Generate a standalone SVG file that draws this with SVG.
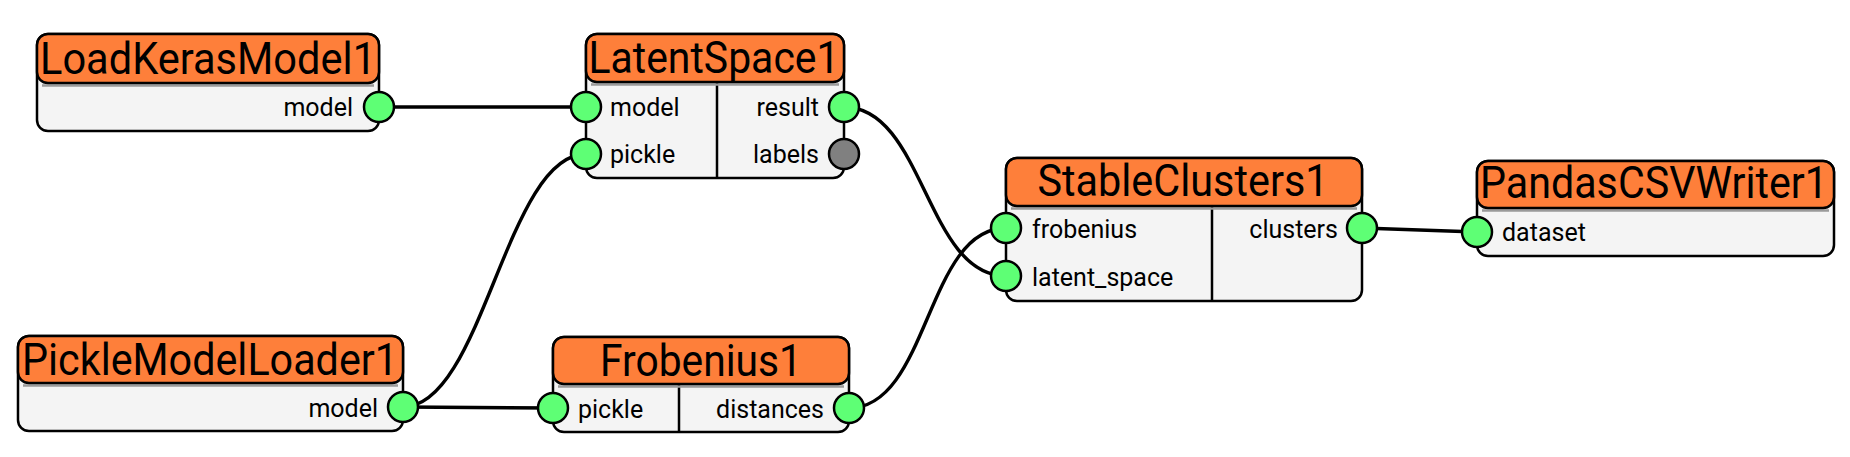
<svg xmlns="http://www.w3.org/2000/svg" width="1850" height="457" viewBox="0 0 1850 457">
<style>
.body{fill:#f4f4f4;stroke:#000;stroke-width:2.5}
.head{fill:#fe7f3a;stroke:#000;stroke-width:2.5}
.shadow{stroke:#9a9a9a;stroke-width:2.5;fill:none}
.div{stroke:#000;stroke-width:2.5}
.title{font-family:Roboto,"Liberation Sans",sans-serif;font-size:44px;fill:#000;text-anchor:middle}
.lbl{font-family:Roboto,"Liberation Sans",sans-serif;font-size:25px;fill:#000}
.r{text-anchor:end}
.port{fill:#5eff75;stroke:#000;stroke-width:2.5}
.off{fill:#808080;stroke:#000;stroke-width:2.5}
.conn{fill:none;stroke:#000;stroke-width:3.4}
</style>
<rect width="1850" height="457" fill="#fff"/>
<g id="connectors">
<path class="conn" d="M379,107 L586,107"/>
<path class="conn" d="M403,407 C483,407 506,154 586,154"/>
<path class="conn" d="M403,407 L553,408"/>
<path class="conn" d="M849,408 C929,408 926,228 1006,228"/>
<path class="conn" d="M844,107 C924,107 926,276 1006,276"/>
<path class="conn" d="M1362,228 L1477,232"/>
</g>
<g id="LoadKerasModel1">
<rect class="body" x="37" y="34" width="342" height="97" rx="11"/>
<line class="shadow" x1="42" y1="85.5" x2="374" y2="85.5"/>
<rect class="head" x="37" y="34" width="342" height="49" rx="11"/>
<text class="title" x="208" y="74" textLength="336" lengthAdjust="spacingAndGlyphs">LoadKerasModel1</text>
<text class="lbl r" x="353" y="116">model</text>
<circle class="port" cx="379" cy="107" r="15"/>
</g>
<g id="LatentSpace1">
<rect class="body" x="586" y="34" width="258" height="144" rx="11"/>
<line class="div" x1="717" y1="82" x2="717" y2="178"/>
<line class="shadow" x1="591" y1="84.5" x2="839" y2="84.5"/>
<rect class="head" x="586" y="34" width="258" height="48" rx="11"/>
<text class="title" x="714" y="73" textLength="251" lengthAdjust="spacingAndGlyphs">LatentSpace1</text>
<text class="lbl" x="610" y="116">model</text>
<text class="lbl" x="610" y="163">pickle</text>
<text class="lbl r" x="819" y="116">result</text>
<text class="lbl r" x="819" y="163">labels</text>
<circle class="port" cx="586" cy="107" r="15"/>
<circle class="port" cx="586" cy="154" r="15"/>
<circle class="port" cx="844" cy="107" r="15"/>
<circle class="off" cx="844" cy="154" r="15"/>
</g>
<g id="StableClusters1">
<rect class="body" x="1006" y="158" width="356" height="143" rx="11"/>
<line class="div" x1="1212" y1="206" x2="1212" y2="301"/>
<line class="shadow" x1="1011" y1="208.5" x2="1357" y2="208.5"/>
<rect class="head" x="1006" y="158" width="356" height="48" rx="11"/>
<text class="title" x="1183" y="196" textLength="291" lengthAdjust="spacingAndGlyphs">StableClusters1</text>
<text class="lbl" x="1032" y="237.5">frobenius</text>
<text class="lbl" x="1032" y="285.5">latent_space</text>
<text class="lbl r" x="1338" y="237.5">clusters</text>
<circle class="port" cx="1006" cy="228" r="15"/>
<circle class="port" cx="1006" cy="276" r="15"/>
<circle class="port" cx="1362" cy="228" r="15"/>
</g>
<g id="PandasCSVWriter1">
<rect class="body" x="1477" y="161" width="357" height="95" rx="11"/>
<line class="shadow" x1="1482" y1="210.5" x2="1829" y2="210.5"/>
<rect class="head" x="1477" y="161" width="357" height="47" rx="11"/>
<text class="title" x="1654" y="198" textLength="348" lengthAdjust="spacingAndGlyphs">PandasCSVWriter1</text>
<text class="lbl" x="1502" y="240.5">dataset</text>
<circle class="port" cx="1477" cy="232" r="15"/>
</g>
<g id="PickleModelLoader1">
<rect class="body" x="18" y="336" width="385" height="95" rx="11"/>
<line class="shadow" x1="23" y1="385.5" x2="398" y2="385.5"/>
<rect class="head" x="18" y="336" width="385" height="47" rx="11"/>
<text class="title" x="210" y="374.5" textLength="376" lengthAdjust="spacingAndGlyphs">PickleModelLoader1</text>
<text class="lbl r" x="378" y="416.5">model</text>
<circle class="port" cx="403" cy="407" r="15"/>
</g>
<g id="Frobenius1">
<rect class="body" x="553" y="337" width="296" height="95" rx="11"/>
<line class="div" x1="679" y1="384" x2="679" y2="432"/>
<line class="shadow" x1="558" y1="386.5" x2="844" y2="386.5"/>
<rect class="head" x="553" y="337" width="296" height="47" rx="11"/>
<text class="title" x="701" y="376" textLength="202" lengthAdjust="spacingAndGlyphs">Frobenius1</text>
<text class="lbl" x="578" y="417.5">pickle</text>
<text class="lbl r" x="824" y="417.5">distances</text>
<circle class="port" cx="553" cy="408" r="15"/>
<circle class="port" cx="849" cy="408" r="15"/>
</g>
</svg>
